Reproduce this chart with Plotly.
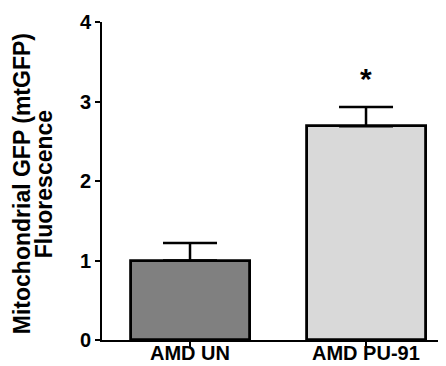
import plotly.graph_objects as go

categories = ["AMD UN", "AMD PU-91"]
values = [1.0, 2.69]
errors = [0.22, 0.24]
bar_colors = ["#808080", "#d9d9d9"]
y_ticks = [0, 1, 2, 3, 4]
title_lines = ["Mitochondrial GFP (mtGFP)", "Fluorescence"]
sig_label = "*"
sig_y = 3.29

FONT = "Liberation Sans, Arial, sans-serif"

fig = go.Figure()
fig.add_trace(go.Bar(
    x=[0, 1], y=values, width=0.676,
    marker=dict(color=bar_colors, line=dict(color="black", width=2.8)),
    error_y=dict(type="data", array=errors, arrayminus=[0, 0], symmetric=False,
                 color="black", thickness=2.5, width=27),
))

fig.add_annotation(x=1, y=sig_y, xref="x", yref="y", text="<b>%s</b>" % sig_label,
                   showarrow=False, font=dict(family=FONT, size=30, color="black"))

W = 342.0
H = 318.0
for i, (line, px) in enumerate(zip(title_lines, [22, 44])):
    fig.add_annotation(x=(px - 102) / W, y=0.49, xref="paper", yref="paper",
                       text="<b>%s</b>" % line, textangle=-90, showarrow=False,
                       xanchor="center", yanchor="middle",
                       font=dict(family=FONT, size=23, color="black"))

for i, c in enumerate(categories):
    fig.add_annotation(x=i, y=-26 / H, xref="x", yref="paper",
                       text="<b>%s</b>" % c, showarrow=False,
                       xanchor="center", yanchor="bottom",
                       font=dict(family=FONT, size=20, color="black"))

# page body has an 8px default margin; size the figure so the plot area
# sits at the same page position as in the reference
fig.update_layout(
    width=438, height=358,
    margin=dict(l=94, r=2, t=14, b=26),
    paper_bgcolor="white", plot_bgcolor="white",
    showlegend=False,
    bargap=0,
)
fig.update_xaxes(
    range=[-0.5, 1.443], tickmode="array", tickvals=[0, 1],
    showticklabels=False,
    showline=True, linecolor="black", linewidth=2,
    ticks="outside", ticklen=5, tickwidth=2, tickcolor="black",
    showgrid=False, zeroline=False,
)
fig.update_yaxes(
    range=[0, 4], tickmode="array", tickvals=y_ticks,
    ticktext=["<b>%d</b>" % t for t in y_ticks],
    showline=True, linecolor="black", linewidth=2,
    ticks="outside", ticklen=5, tickwidth=2, tickcolor="black",
    showgrid=False, zeroline=False,
    tickfont=dict(family=FONT, size=20, color="black"),
)

fig.write_html("out.html")
